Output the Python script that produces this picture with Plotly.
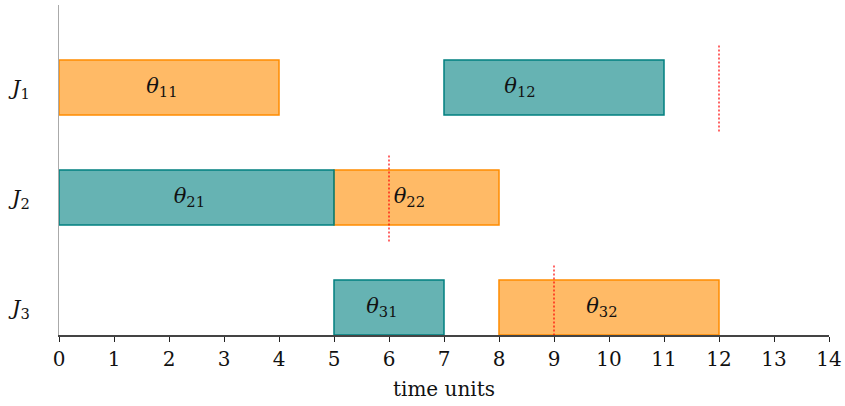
import plotly.graph_objects as go

# Data
jobs = ["J1", "J2", "J3"]
job_y = [3, 2, 1]
tick_text = ["<i>J</i><sub>1</sub>", "<i>J</i><sub>2</sub>", "<i>J</i><sub>3</sub>"]

task_names = ["11", "12", "21", "22", "31", "32"]
task_job = [3, 3, 2, 2, 1, 1]
task_start = [0, 7, 0, 5, 5, 8]
task_dur = [4, 4, 5, 3, 2, 4]
task_kind = ["orange", "teal", "teal", "orange", "teal", "orange"]
label_x = [1.87, 8.38, 2.37, 6.37, 5.87, 9.87]

deadlines = [12, 6, 9]

x_ticks = list(range(0, 15))

FONT = "'DejaVu Serif', serif"

fill = {"orange": "rgba(255,140,0,0.6)", "teal": "rgba(0,128,128,0.6)"}
edge = {"orange": "#FF8C00", "teal": "#008080"}

fig = go.Figure()

for kind in ["orange", "teal"]:
    idx = [i for i, k in enumerate(task_kind) if k == kind]
    fig.add_trace(go.Bar(
        orientation="h",
        y=[task_job[i] for i in idx],
        x=[task_dur[i] for i in idx],
        base=[task_start[i] for i in idx],
        width=0.5,
        marker=dict(color=fill[kind], line=dict(color=edge[kind], width=1.5)),
        showlegend=False, hoverinfo="skip",
    ))

for d, y in zip(deadlines, job_y):
    fig.add_trace(go.Scatter(
        x=[d, d], y=[y - 0.4, y + 0.4], mode="lines",
        line=dict(color="red", width=1.2, dash="2px,2px"),
        showlegend=False, hoverinfo="skip",
    ))

fig.add_trace(go.Scatter(
    x=label_x, y=task_job, mode="text",
    text=["<i>θ</i><sub>%s</sub>" % n for n in task_names],
    textfont=dict(family=FONT, size=21, color="#111"),
    textposition="middle center",
    showlegend=False, hoverinfo="skip",
))

fig.update_layout(
    width=845, height=406,
    margin=dict(l=59, r=16, t=5, b=71),
    plot_bgcolor="white", paper_bgcolor="white",
    barmode="overlay",
    font=dict(family=FONT, size=19, color="#111"),
    xaxis=dict(
        range=[0, 14], tickvals=x_ticks, showgrid=False, zeroline=False,
        automargin=False,
        showline=True, linecolor="#444", linewidth=1.5,
        ticks="outside", ticklen=5, tickcolor="#222", tickwidth=1,
        tickfont=dict(family=FONT, size=20),
        title=dict(text="time units", font=dict(family=FONT, size=20), standoff=12),
    ),
    yaxis=dict(
        range=[0.75, 3.75], tickvals=job_y, ticktext=tick_text,
        showgrid=False, zeroline=False, automargin=False,
        showline=True, linecolor="#aaaaaa", linewidth=1,
        ticks="", ticklabelstandoff=24, tickfont=dict(family=FONT, size=21),
    ),
)

fig.write_html("out.html")
